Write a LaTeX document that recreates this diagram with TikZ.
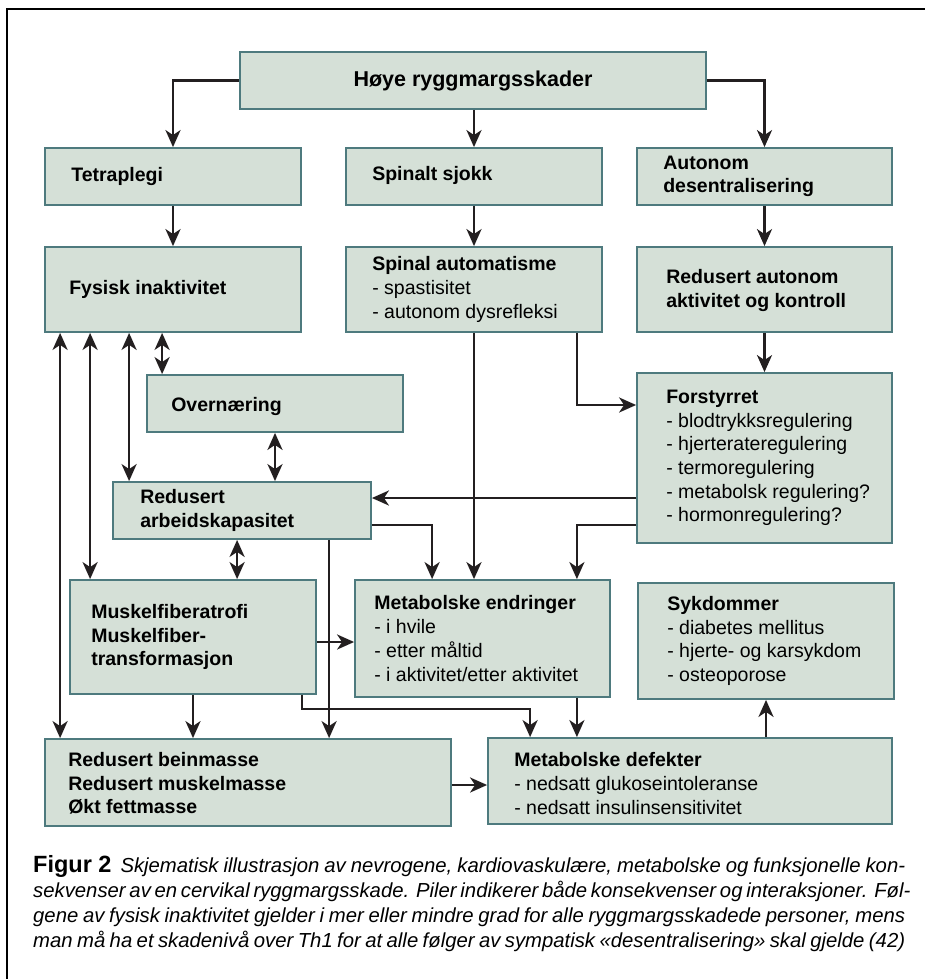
\documentclass[tikz,border=0pt]{standalone}
\usepackage{fontspec}
\setmainfont{Liberation Sans}
\usetikzlibrary{arrows.meta,calc}
\definecolor{boxfill}{RGB}{213,224,215}
\definecolor{boxline}{RGB}{78,122,126}
\definecolor{arrowcol}{RGB}{35,31,32}

\begin{document}
\begin{tikzpicture}[x=1pt,y=1pt,yscale=-1,
  box/.style={draw=boxline,fill=boxfill,line width=1.8pt,inner sep=0pt},
  txt/.style={anchor=west,inner sep=0pt,align=left,font=\fontsize{19.5}{23.7}\selectfont},
  arr/.style={draw=arrowcol,line width=2.6pt,-{Stealth[length=17pt,width=15pt,inset=5pt]}},
  dbl/.style={draw=arrowcol,line width=2.6pt,{Stealth[length=17pt,width=15pt,inset=5pt]}-{Stealth[length=17pt,width=15pt,inset=5pt]}}]
\useasboundingbox (0,0) rectangle (925,979);

%Frame
\draw[line width=2.5pt] (930,9) -- (7,9) -- (7,985);

%Shape: Rectangles
\node[box,minimum width=466pt,minimum height=57pt] (top) at (473,80.5) {};
\node[box,minimum width=256pt,minimum height=57pt] (tetra) at (173,176.5) {};
\node[box,minimum width=256pt,minimum height=57pt] (sjokk) at (474,176.5) {};
\node[box,minimum width=255pt,minimum height=57pt] (auto) at (764.5,176.5) {};
\node[box,minimum width=256pt,minimum height=85pt] (fysisk) at (173,289.5) {};
\node[box,minimum width=256pt,minimum height=85pt] (spinal) at (474,289.5) {};
\node[box,minimum width=255pt,minimum height=85pt] (redaut) at (764.5,289.5) {};
\node[box,minimum width=256pt,minimum height=57pt] (over) at (275,403.5) {};
\node[box,minimum width=255pt,minimum height=170pt] (forst) at (764.5,458) {};
\node[box,minimum width=258pt,minimum height=57pt] (arbeid) at (242,510.5) {};
\node[box,minimum width=246pt,minimum height=114pt] (muskel) at (193,637) {};
\node[box,minimum width=255pt,minimum height=117pt] (endr) at (482.5,638.5) {};
\node[box,minimum width=256pt,minimum height=116pt] (syk) at (766,641) {};
\node[box,minimum width=406pt,minimum height=87pt] (bein) at (248,782.5) {};
\node[box,minimum width=404pt,minimum height=86pt] (defekt) at (690,781) {};

% Text Nodes
\node[inner sep=0pt,font=\fontsize{21.5}{26}\selectfont\bfseries] (top-t) at (top) {Høye ryggmargsskader};
\node[txt,font=\fontsize{19.5}{23.7}\selectfont\bfseries] (tetra-t) at ($(tetra.west)+(27,0)$) {Tetraplegi};
\node[txt,font=\fontsize{19.5}{23.7}\selectfont\bfseries] (sjokk-t) at ($(sjokk.west)+(27,-1)$) {Spinalt sjokk};
\node[txt,font=\fontsize{19.5}{23.7}\selectfont\bfseries] (auto-t) at ($(auto.west)+(27,0)$) {Autonom\\desentralisering};
\node[txt,font=\fontsize{19.5}{23.7}\selectfont\bfseries] (fysisk-t) at ($(fysisk.west)+(25,0)$) {Fysisk inaktivitet};
\node[txt] (spinal-t) at ($(spinal.west)+(27,0)$) {\textbf{Spinal automatisme}\\- spastisitet\\- autonom dysrefleksi};
\node[txt,font=\fontsize{19.5}{23.7}\selectfont\bfseries] (redaut-t) at ($(redaut.west)+(30,1)$) {Redusert autonom\\aktivitet og kontroll};
\node[txt,font=\fontsize{19.5}{23.7}\selectfont\bfseries] (over-t) at ($(over.west)+(25,3)$) {Overnæring};
\node[txt] (forst-t) at ($(forst.west)+(30,0)$) {\textbf{Forstyrret}\\- blodtrykksregulering\\- hjerterateregulering\\- termoregulering\\- metabolsk regulering?\\- hormonregulering?};
\node[txt,font=\fontsize{19.5}{23.7}\selectfont\bfseries] (arbeid-t) at ($(arbeid.west)+(28,0)$) {Redusert\\arbeidskapasitet};
\node[txt,font=\fontsize{19.5}{23.7}\selectfont\bfseries] (muskel-t) at ($(muskel.west)+(22,0)$) {Muskelfiberatrofi\\Muskelfiber-\\transformasjon};
\node[txt] (endr-t) at ($(endr.west)+(20,0)$) {\textbf{Metabolske endringer}\\- i hvile\\- etter måltid\\- i aktivitet/etter aktivitet};
\node[txt] (syk-t) at ($(syk.west)+(30,0)$) {\textbf{Sykdommer}\\- diabetes mellitus\\- hjerte- og karsykdom\\- osteoporose};
\node[txt,font=\fontsize{19.5}{23.7}\selectfont\bfseries] (bein-t) at ($(bein.west)+(24,1)$) {Redusert beinmasse\\Redusert muskelmasse\\Økt fettmasse};
\node[txt] (defekt-t) at ($(defekt.west)+(27,2.5)$) {\textbf{Metabolske defekter}\\- nedsatt glukoseintoleranse\\- nedsatt insulinsensitivitet};

%Connectors
\coordinate (c1) at ($(fysisk.south west)+(16,0)$);
\coordinate (c2) at ($(fysisk.south west)+(46,0)$);
\coordinate (c3) at ($(fysisk.south west)+(85,0)$);
\coordinate (c4) at ($(fysisk.south west)+(118,0)$);
\coordinate (c5) at ($(arbeid.south west)+(125,0)$);
\coordinate (c6) at ($(arbeid.south west)+(217,0)$);
\coordinate (c7) at ($(spinal.south east)+(-26,0)$);
\coordinate (c8) at ($(endr.south east)+(-34,0)$);
\coordinate (c9) at ($(muskel.south east)+(-15,0)$);
\coordinate (c10) at ($(bein.east)+(0,2.5)$);

\draw[arr] (top.west) -| (tetra.north);
\draw[arr] (sjokk.north |- top.south) -- (sjokk.north);
\draw[arr] (top.east) -| (auto.north);
\draw[arr] (tetra.south) -- (fysisk.north);
\draw[arr] (sjokk.south) -- (spinal.north);
\draw[arr] (auto.south) -- (redaut.north);
\draw[arr] (redaut.south) -- (forst.north);
\draw[dbl] (c1) -- (c1 |- bein.north);
\draw[dbl] (c2) -- (c2 |- muskel.north);
\draw[dbl] (c3) -- (c3 |- arbeid.north);
\draw[dbl] (c4) -- (c4 |- over.north);
\draw[dbl] (over.south) -- (over.south |- arbeid.north);
\draw[dbl] (c5) -- (c5 |- muskel.north);
\draw[arr] ($(forst.west)+(0,40)$) -- ($(arbeid.east)+(0,-12.5)$);
\draw[arr] ($(arbeid.east)+(0,14.5)$) -| ($(endr.north west)+(78,0)$);
\draw[arr] (c6) -- (c6 |- bein.north);
\draw[arr] (spinal.south) -- (spinal.south |- endr.north);
\draw[arr] (c7) |- ($(forst.west)+(0,-53)$);
\draw[arr] ($(forst.west)+(0,67)$) -| ($(endr.north east)+(-34,0)$);
\draw[arr] ($(muskel.east)+(0,5)$) -- ($(endr.west)+(0,3.5)$);
\draw[arr] (c9) -- ++(0,14) -| ($(defekt.north west)+(43,0)$);
\draw[arr] (muskel.south) -- (muskel.south |- bein.north);
\draw[arr] (c8) -- (c8 |- defekt.north);
\draw[arr] (syk.south |- defekt.north) -- (syk.south);
\draw[arr] (c10) -- (c10 -| defekt.west);

% Caption
\node[anchor=north west,inner sep=0pt,align=left,font=\fontsize{20.3}{25}\selectfont\itshape] (cap) at (33,855)
 {\makebox[872pt][s]{\mbox{\upshape\bfseries\fontsize{23.5}{25}\selectfont Figur 2}\hspace*{4pt} Skjematisk illustrasjon av nevrogene, kardiovaskulære, metabolske og funksjonelle kon-}\\
  \makebox[872pt][s]{sekvenser av en cervikal ryggmargsskade. Piler indikerer både konsekvenser og interaksjoner. Føl-}\\
  \makebox[872pt][s]{gene av fysisk inaktivitet gjelder i mer eller mindre grad for alle ryggmargsskadede personer, mens}\\
  \makebox[872pt][s]{man må ha et skadenivå over Th1 for at alle følger av sympatisk «desentralisering» skal gjelde (42)}};

\end{tikzpicture}
\end{document}
